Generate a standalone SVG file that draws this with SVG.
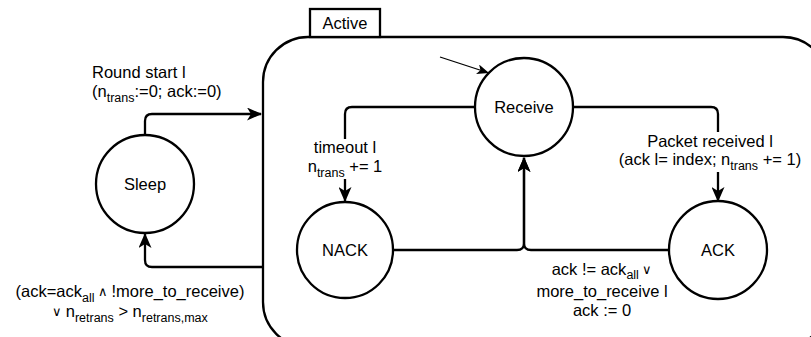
<svg xmlns="http://www.w3.org/2000/svg" width="811" height="337" viewBox="0 0 811 337">
<defs>
<style>
text{font-family:"Liberation Sans",Arial,Helvetica,sans-serif;font-size:16.5px;fill:#000}
.c{text-anchor:middle}
.s{font-size:12.5px}
.sym{font-size:12.5px}
.shape{fill:#fff;stroke:#000;stroke-width:2.3}
.edge{fill:none;stroke:#000;stroke-width:2.3}
.bg{fill:#fff}
</style>
<marker id="arr" viewBox="0 0 15 13" refX="14" refY="6.5" markerWidth="15" markerHeight="13" markerUnits="userSpaceOnUse" orient="auto">
<path d="M0,0 L15,6.5 L0,13 L4,6.5 Z" fill="#000"/>
</marker>
<marker id="arrs" viewBox="0 0 12 10" refX="12" refY="5" markerWidth="12" markerHeight="10" markerUnits="userSpaceOnUse" orient="auto">
<path d="M0,0 L12,5 L0,10 L3,5 Z" fill="#000"/>
</marker>
</defs>
<rect width="811" height="337" fill="#fff"/>

<g id="active">
<rect class="shape" x="263" y="37" width="565" height="310" rx="45" ry="45"/>
<rect class="shape" x="310" y="9" width="70" height="28"/>
<text class="c" x="345" y="29">Active</text>
</g>

<g id="connectors">
<path class="edge" d="M145,134 V121 Q145,114 152,114 H261" marker-end="url(#arr)"/>
<path class="edge" d="M263,267 H152 Q145,267 145,260 V234" marker-end="url(#arr)"/>
<path class="edge" d="M475,107 H352 Q345,107 345,114 V201" marker-end="url(#arr)"/>
<path class="edge" d="M573,107 H711 Q718,107 718,114 V201" marker-end="url(#arr)"/>
<path class="edge" d="M393,250 H517 Q524,250 524,243 V158" marker-end="url(#arr)"/>
<path class="edge" d="M669,250 H531 Q524,250 524,243 V158" marker-end="url(#arr)"/>
<path fill="none" stroke="#000" stroke-width="1.3" d="M440,57 L489,73" marker-end="url(#arrs)"/>

<text x="92" y="78">Round start l</text>
<text x="92" y="97">(n<tspan class="s" dy="5">trans</tspan><tspan dy="-5">:=0; ack:=0)</tspan></text>

<rect class="bg" x="298" y="139" width="94" height="40"/>
<text class="c" x="345" y="153">timeout l</text>
<text class="c" x="345" y="172">n<tspan class="s" dy="5">trans</tspan><tspan dy="-5"> += 1</tspan></text>

<rect class="bg" x="612" y="132" width="196" height="40"/>
<text class="c" x="710" y="147">Packet received l</text>
<text class="c" x="710" y="165">(ack l= index; n<tspan class="s" dy="5">trans</tspan><tspan dy="-5"> += 1)</tspan></text>

<text class="c" x="602" y="275">ack != ack<tspan class="s" dy="4">all</tspan><tspan class="sym" dy="-5"> ∨</tspan></text>
<text class="c" x="602" y="297">more_to_receive l</text>
<text class="c" x="602" y="316">ack := 0</text>

<text class="c" x="130" y="297">(ack=ack<tspan class="s" dy="5">all</tspan><tspan class="sym" dy="-6"> ∧ </tspan><tspan dy="1">!more_to_receive)</tspan></text>
<text class="c" x="130" y="317"><tspan class="sym" dy="-1">∨ </tspan><tspan dy="1">n</tspan><tspan class="s" dy="5">retrans</tspan><tspan dy="-5"> &gt; n</tspan><tspan class="s" dy="5">retrans,max</tspan></text>
</g>

<g id="sleep">
<circle class="shape" cx="145" cy="184" r="49"/>
<text class="c" x="145" y="190">Sleep</text>
</g>
<g id="receive">
<circle class="shape" cx="524" cy="107" r="49"/>
<text class="c" x="524" y="113">Receive</text>
</g>
<g id="nack">
<circle class="shape" cx="345" cy="250" r="48"/>
<text class="c" x="345" y="256">NACK</text>
</g>
<g id="ack">
<circle class="shape" cx="718" cy="250" r="49"/>
<text class="c" x="718" y="256">ACK</text>
</g>
</svg>
